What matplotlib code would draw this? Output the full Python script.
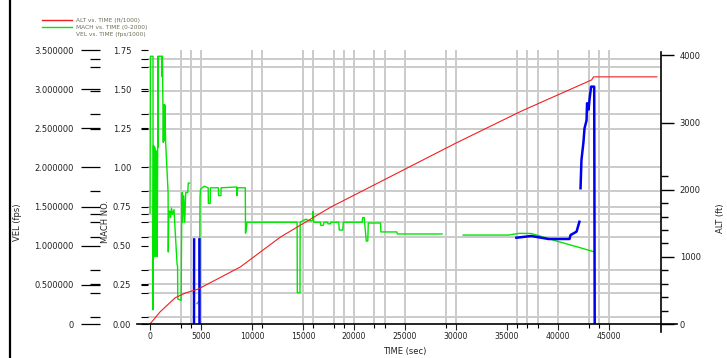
import matplotlib
matplotlib.use("Agg")
import matplotlib.pyplot as plt
import numpy as np
from matplotlib.lines import Line2D
from matplotlib.ticker import FixedLocator, FuncFormatter

nan = np.nan

# altitude (right axis)
alt_t = [0, 980, 2460, 3440, 4720, 8860, 12790, 17710, 22930, 30010, 36410, 43300, 43490, 49700]
alt_v = [0, 180, 390, 460, 520, 850, 1295, 1740, 2145, 2695, 3170, 3635, 3680, 3680]

# mach (inner left axis), green trace
mach_t = [0, 40, 290, 300, 350, 400, 450, 500, 550, 600, 650, 700, 750, 780, 800, 820,
          1180, 1190, 1210, 1230, 1260, 1300, 1350, 1400, 1450, 1530, 1770, 1790, 1830,
          1950, 2000, 2100, 2200, 2350, 2650, 2700, 2720, 3050, 3100, 3150, 3200, 3300,
          3400, 3500, 3700, 3750, 3880, nan, 4600, 4850, 4900, 4950, 5300, 5700, 5720,
          5900, 5920, 6700, 6720, 6950, 6970, 8500, 8520, 8600, 9340, 9360, 9450, 9500,
          14420, 14440, 14700, 14720, 15300, 15500, 15950, 16000, 16050, 16700, 16750,
          17000, 17050, 17400, 17450, 17700, 17750, 18500, 18550, 18900, 18950, 20800,
          20850, 21000, 21200, 21350, 21400, 22600, 22630, 24200, 24250, 28630, nan,
          30700, 35130, 36200, 37390, 40060, 42030, 43490]
mach_v = [0.71, 1.71, 1.71, 0.09, 1.14, 0.43, 1.13, 0.43, 1.11, 0.45, 1.10, 0.43, 1.13, 1.71,
          1.13, 1.71, 1.71, 1.58, 1.71, 1.58, 1.41, 1.16, 1.40, 1.17, 1.40, 1.16, 0.84, 0.46,
          0.72, 0.72, 0.68, 0.74, 0.70, 0.73, 0.38, 0.37, 0.16, 0.15, 0.63, 0.84, 0.65, 0.82,
          0.65, 0.84, 0.84, 0.90, 0.90, nan, 0.13, 0.15, 0.81, 0.86, 0.88, 0.87, 0.77, 0.77,
          0.87, 0.87, 0.82, 0.82, 0.87, 0.875, 0.82, 0.87, 0.87, 0.58, 0.61, 0.65, 0.65,
          0.20, 0.20, 0.65, 0.67, 0.66, 0.66, 0.72, 0.65, 0.65, 0.63, 0.63, 0.65, 0.65,
          0.64, 0.64, 0.65, 0.65, 0.60, 0.60, 0.65, 0.65, 0.68, 0.68, 0.53, 0.53, 0.645,
          0.645, 0.588, 0.588, 0.575, 0.575, nan, 0.568, 0.568, 0.579, 0.578, 0.526, 0.49,
          0.462]

# second mach trace, blue
mach2_t = [4310, 4320, nan, 4840, 4850, nan, 35920, 37390, 38000, 39070, 41130, 41230, 41820,
           42100, nan, 42210, 42300, 42500, 42600, 42800, 42850, 43000, 43100, 43250, 43550, 43600]
mach2_v = [0, 0.54, nan, 0.54, 0, nan, 0.551, 0.562, 0.555, 0.543, 0.543, 0.568, 0.59, 0.653,
           nan, 0.867, 1.047, 1.164, 1.25, 1.30, 1.41, 1.37, 1.44, 1.516, 1.516, 0.0]

x_labels = [0, 5000, 10000, 15000, 20000, 25000, 30000, 35000, 40000, 45000]
v_grid = [3000, 4000, 5000, 10000, 11000, 15000, 16000, 18000, 19000, 20000, 22000, 23000,
          25000, 29000, 30000, 36000, 37000, 38000, 40000, 43000, 44000, 45000]
h_grid = [0.045, 0.20, 0.255, 0.345, 0.555, 0.65, 0.70, 0.75, 0.85, 1.0, 1.245, 1.34,
          1.49, 1.64, 1.69]
mach_ticks = [0, 0.25, 0.5, 0.75, 1.0, 1.25, 1.5, 1.75]
vel_ticks = [0, 0.5, 1.0, 1.5, 2.0, 2.5, 3.0, 3.5]
alt_ticks = [0, 1000, 2000, 3000, 4000]
alt_minor = [200, 400, 600, 800, 1200, 1400, 1600, 1800, 2200]

W, H = 727, 358
fig = plt.figure(figsize=(W / 100, H / 100), dpi=100)
fig.patch.set_facecolor("white")

L, R, B, T = 148, 661, 324, 50
ax = fig.add_axes([L / W, (H - B) / H, (R - L) / W, (B - T) / H])
ax.set_xlim(-200, 50100)
ax.set_ylim(0, 1.75)
for s in ax.spines.values():
    s.set_visible(False)

gc = "#cbcbcb"
for xv in v_grid:
    ax.axvline(xv, color=gc, lw=1.4, zorder=0)
for yv in h_grid:
    ax.axhline(yv, color=gc, lw=1.4, zorder=0)

# x axis
ax.set_xticks(x_labels)
ax.set_xticklabels([str(v) for v in x_labels])
ax.xaxis.set_minor_locator(FixedLocator(v_grid))
ax.tick_params(axis="x", which="major", length=4, width=0.8, pad=2, labelsize=5.6, colors="#222222")
ax.tick_params(axis="x", which="minor", length=3, width=0.8)
ax.set_xlabel("TIME (sec)", fontsize=6, labelpad=4, color="#222222")

# inner left axis (mach)
ax.set_yticks(mach_ticks)
ax.set_yticklabels(["%.2f" % v for v in mach_ticks])
ax.yaxis.set_minor_locator(FixedLocator(h_grid))
ax.tick_params(axis="y", which="both", length=5, width=0.8, pad=7, labelsize=6, labelcolor="#222222")

ax.plot(mach_t, mach_v, color="#00e600", lw=1.0, zorder=3)
ax.plot(mach2_t, mach2_v, color="#0000f0", lw=1.8, zorder=4)

# right axis (altitude)
ax_r = ax.twinx()
ax_r.set_ylim(0, 4080)
for s in ax_r.spines.values():
    s.set_visible(False)
ax_r.set_yticks(alt_ticks)
ax_r.set_yticklabels([str(v) for v in alt_ticks])
ax_r.yaxis.set_minor_locator(FixedLocator(alt_minor))
ax_r.tick_params(axis="y", which="major", length=9.5, width=1.0, pad=4, labelsize=6, labelcolor="#222222")
ax_r.tick_params(axis="y", which="minor", length=5, width=1.0)
ax_r.plot(alt_t, alt_v, color="#f02020", lw=0.8, zorder=5)

# outer left axis (velocity)
ax_o = ax.twinx()
ax_o.set_ylim(0, 3.5)
for s in ax_o.spines.values():
    s.set_visible(False)
ax_o.spines["left"].set_position(("axes", (100 - L) / (R - L)))
ax_o.yaxis.set_ticks_position("left")
ax_o.set_yticks(vel_ticks)
ax_o.yaxis.set_major_formatter(FuncFormatter(lambda v, p: "0" if v == 0 else "%.6f" % v))
ax_o.yaxis.set_minor_locator(FixedLocator([v * 2 for v in h_grid]))
ax_o.tick_params(axis="y", which="major", length=14, width=0.9, pad=5, labelsize=6, labelcolor="#222222")
ax_o.tick_params(axis="y", which="minor", length=7, width=0.9)

# axis lines drawn across the figure
fig.add_artist(Line2D([137 / W, 677 / W], [(H - B) / H] * 2, color="black", lw=1.2))
fig.add_artist(Line2D([R / W] * 2, [(H - 332) / H, (H - 52) / H], color="black", lw=1.2))
fig.add_artist(Line2D([10 / W] * 2, [0, 1], color="black", lw=1.6))

# axis titles
fig.text(18 / W, 1 - 222 / H, "VEL (fps)", rotation=90, fontsize=6, ha="center", va="center", color="#222222")
fig.text(106 / W, 1 - 222 / H, "MACH NO.", rotation=90, fontsize=6, ha="center", va="center", color="#222222")
fig.text(721 / W, 1 - 218 / H, "ALT (ft)", rotation=90, fontsize=6, ha="center", va="center", color="#222222")

# legend
handles = [Line2D([], [], color="#f02020", lw=1.0),
           Line2D([], [], color="#00e600", lw=1.0),
           Line2D([], [], color="none", lw=1.0)]
labels = ["ALT vs. TIME (ft/1000)", "MACH vs. TIME (0-2000)", "VEL vs. TIME (fps/1000)"]
leg = fig.legend(handles, labels, loc="upper left", bbox_to_anchor=(42 / W, 1 - 18 / H),
                 frameon=False, fontsize=4.2, handlelength=5.2, handletextpad=0.6,
                 labelspacing=0.3, borderpad=0, borderaxespad=0)
for t in leg.get_texts():
    t.set_color("#6f6f55")

fig.savefig("out.png", dpi=100, facecolor="white")
